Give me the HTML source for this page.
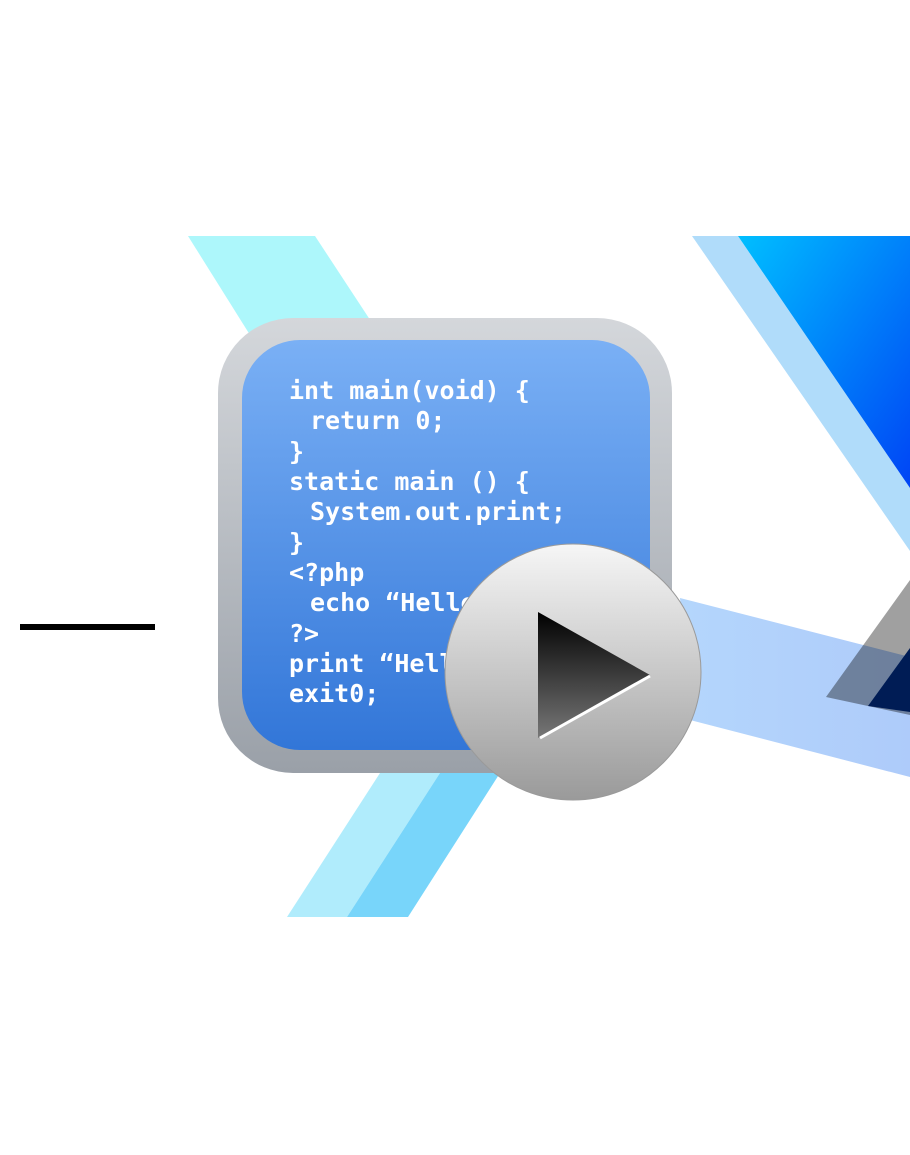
<!DOCTYPE html>
<html><head><meta charset="utf-8"><style>
html,body{margin:0;padding:0;background:#fff;}
svg{display:block}
</style></head><body>
<svg width="910" height="1155" viewBox="0 0 910 1155" xmlns="http://www.w3.org/2000/svg">
<defs>
<linearGradient id="bt" x1="0" y1="0" x2="1" y2="1">
<stop offset="0" stop-color="#00bfff"/><stop offset="1" stop-color="#0044f5"/></linearGradient>
<linearGradient id="frame" x1="0" y1="0" x2="0" y2="1">
<stop offset="0" stop-color="#d4d7db"/><stop offset="1" stop-color="#9aa0a8"/></linearGradient>
<linearGradient id="inner" x1="0" y1="0" x2="0" y2="1">
<stop offset="0" stop-color="#7ab0f5"/><stop offset="1" stop-color="#3276d8"/></linearGradient>
<linearGradient id="circ" x1="0" y1="0" x2="0" y2="1">
<stop offset="0" stop-color="#f6f6f6"/><stop offset="1" stop-color="#9a9a9a"/></linearGradient>
<linearGradient id="tri" x1="0" y1="0" x2="0" y2="1">
<stop offset="0" stop-color="#000"/><stop offset="1" stop-color="#777"/></linearGradient>
<linearGradient id="band" x1="0" y1="0" x2="1" y2="0">
<stop offset="0" stop-color="#b4d6fc"/><stop offset="1" stop-color="#aecbfa"/></linearGradient>
</defs>
<rect x="20" y="624" width="135" height="6" fill="#000"/>
<polygon points="188,236 315,236 380,335 250,335" fill="#adf7fb"/>
<polygon points="380,773 440,773 347,917 287,917" fill="#b0ecfc"/>
<polygon points="440,773 500,773 408,917 347,917" fill="#78d5fa"/>
<polygon points="692,236 738,236 910,488 910,551" fill="#b0dcfa"/>
<polygon points="738,236 910,236 910,488" fill="url(#bt)"/>
<polygon points="826,697 910,580 910,715" fill="#a0a0a0"/>
<polygon points="680,598 910,657 910,777 690,720" fill="url(#band)" style="mix-blend-mode:multiply"/>
<polygon points="868,706 910,648 910,712" fill="#001c55"/>
<rect x="218" y="318" width="454" height="455" rx="75" fill="url(#frame)"/>
<rect x="242" y="340" width="408" height="410" rx="58" fill="url(#inner)"/>
<g font-family="'DejaVu Sans Mono','Liberation Mono',monospace" font-weight="bold" font-size="25" fill="#fff">
<text x="289" y="399">int main(void) {</text>
<text x="310" y="429">return 0;</text>
<text x="289" y="460">}</text>
<text x="289" y="490">static main () {</text>
<text x="310" y="520">System.out.print;</text>
<text x="289" y="551">}</text>
<text x="289" y="581">&lt;?php</text>
<text x="310" y="611">echo “Hello</text>
<text x="289" y="642">?&gt;</text>
<text x="289" y="672">print “Hell</text>
<text x="289" y="702">exit0;</text>
</g>
<circle cx="573" cy="672" r="128" fill="url(#circ)" stroke="#9a9a9a" stroke-width="1"/>
<polygon points="538,612 650,675 538,738" fill="url(#tri)"/>
<line x1="540" y1="738" x2="650" y2="676" stroke="#fff" stroke-width="3"/>
</svg>
</body></html>
